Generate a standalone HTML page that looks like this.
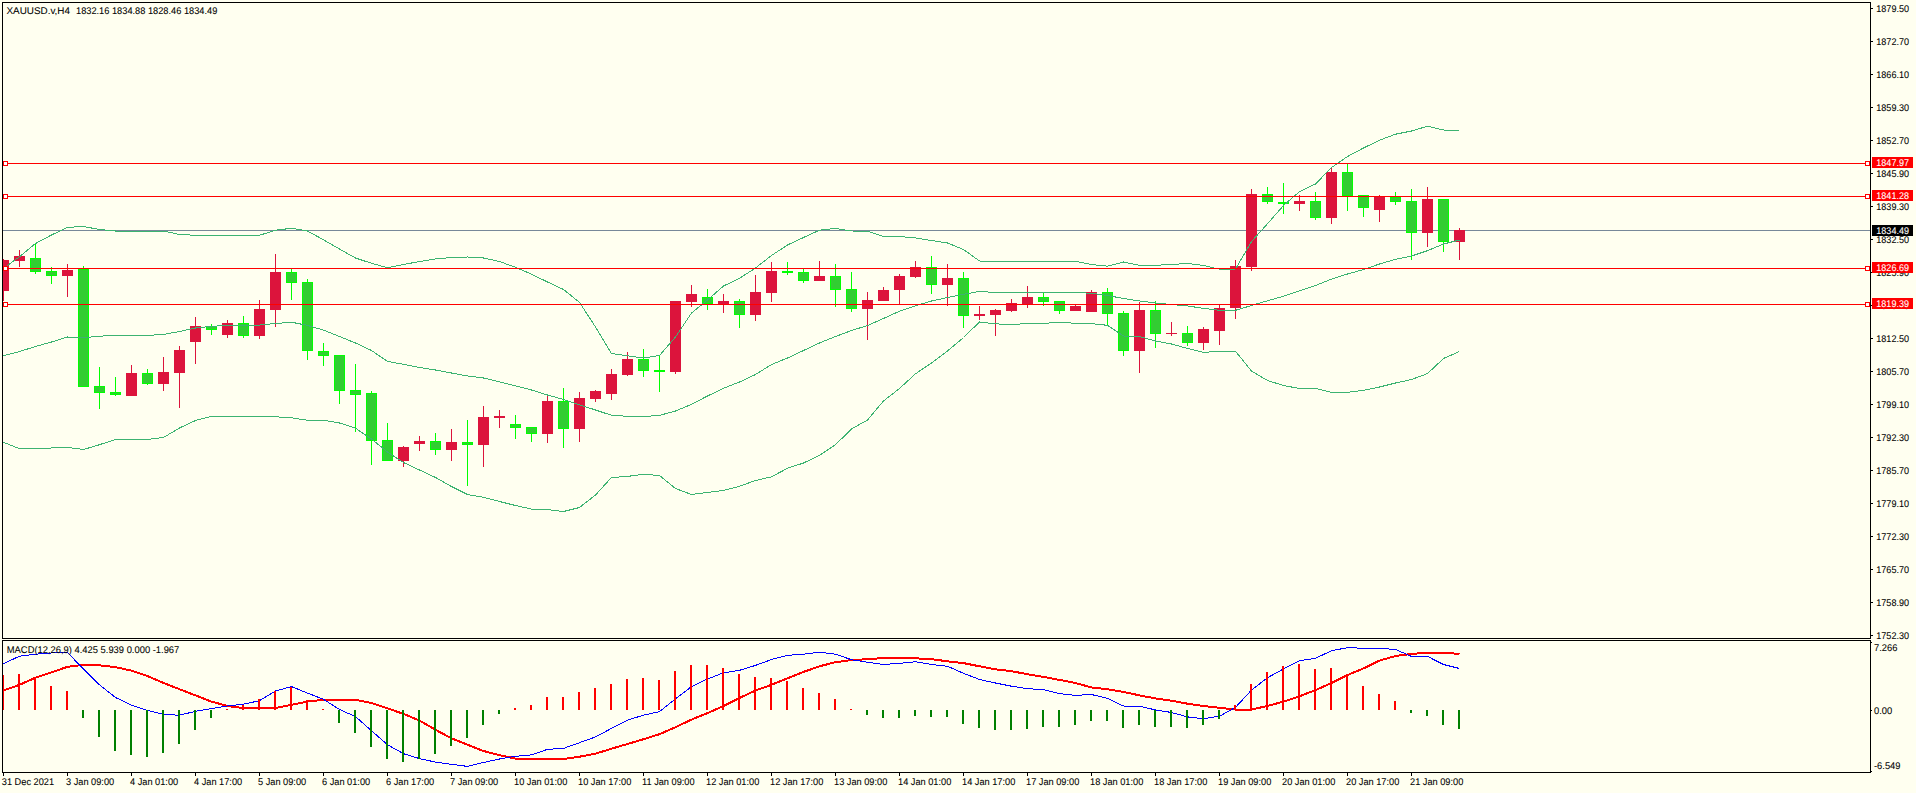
<!DOCTYPE html>
<html><head><meta charset="utf-8"><title>XAUUSD.v,H4</title>
<style>html,body{margin:0;padding:0;background:#FFFFF0;width:1916px;height:793px;overflow:hidden}svg{display:block}</style>
</head><body>
<svg width="1916" height="793" viewBox="0 0 1916 793">
<rect x="0" y="0" width="1916" height="793" fill="#FFFFF0"/>
<defs><clipPath id="cm"><rect x="3" y="3" width="1867" height="635"/></clipPath><clipPath id="cs"><rect x="3" y="641" width="1867" height="131"/></clipPath></defs>
<g clip-path="url(#cm)" shape-rendering="crispEdges">
<rect x="3" y="230" width="1867" height="1" fill="#778899"/>
<rect x="3" y="259" width="1" height="42" fill="#DC143C"/>
<rect x="-2" y="260" width="11" height="31" fill="#DC143C"/>
<rect x="19" y="250" width="1" height="17" fill="#DC143C"/>
<rect x="14" y="256" width="11" height="5" fill="#DC143C"/>
<rect x="35" y="243" width="1" height="31" fill="#00FF00"/>
<rect x="30" y="258" width="11" height="14" fill="#00FF00"/>
<rect x="31" y="259" width="9" height="12" fill="#32CD32"/>
<rect x="51" y="267" width="1" height="17" fill="#00FF00"/>
<rect x="46" y="271" width="11" height="5" fill="#00FF00"/>
<rect x="47" y="272" width="9" height="3" fill="#32CD32"/>
<rect x="67" y="264" width="1" height="33" fill="#DC143C"/>
<rect x="62" y="270" width="11" height="6" fill="#DC143C"/>
<rect x="83" y="266" width="1" height="121" fill="#00FF00"/>
<rect x="78" y="269" width="11" height="118" fill="#00FF00"/>
<rect x="79" y="270" width="9" height="116" fill="#32CD32"/>
<rect x="99" y="367" width="1" height="42" fill="#00FF00"/>
<rect x="94" y="386" width="11" height="7" fill="#00FF00"/>
<rect x="95" y="387" width="9" height="5" fill="#32CD32"/>
<rect x="115" y="377" width="1" height="19" fill="#00FF00"/>
<rect x="110" y="392" width="11" height="3" fill="#00FF00"/>
<rect x="111" y="393" width="9" height="1" fill="#32CD32"/>
<rect x="131" y="365" width="1" height="31" fill="#DC143C"/>
<rect x="126" y="373" width="11" height="23" fill="#DC143C"/>
<rect x="147" y="369" width="1" height="16" fill="#00FF00"/>
<rect x="142" y="373" width="11" height="11" fill="#00FF00"/>
<rect x="143" y="374" width="9" height="9" fill="#32CD32"/>
<rect x="163" y="357" width="1" height="34" fill="#DC143C"/>
<rect x="158" y="372" width="11" height="12" fill="#DC143C"/>
<rect x="179" y="346" width="1" height="62" fill="#DC143C"/>
<rect x="174" y="350" width="11" height="23" fill="#DC143C"/>
<rect x="195" y="317" width="1" height="47" fill="#DC143C"/>
<rect x="190" y="326" width="11" height="16" fill="#DC143C"/>
<rect x="211" y="324" width="1" height="11" fill="#00FF00"/>
<rect x="206" y="326" width="11" height="4" fill="#00FF00"/>
<rect x="207" y="327" width="9" height="2" fill="#32CD32"/>
<rect x="227" y="320" width="1" height="18" fill="#DC143C"/>
<rect x="222" y="323" width="11" height="12" fill="#DC143C"/>
<rect x="243" y="316" width="1" height="22" fill="#00FF00"/>
<rect x="238" y="323" width="11" height="13" fill="#00FF00"/>
<rect x="239" y="324" width="9" height="11" fill="#32CD32"/>
<rect x="259" y="300" width="1" height="39" fill="#DC143C"/>
<rect x="254" y="309" width="11" height="27" fill="#DC143C"/>
<rect x="275" y="254" width="1" height="73" fill="#DC143C"/>
<rect x="270" y="272" width="11" height="38" fill="#DC143C"/>
<rect x="291" y="269" width="1" height="31" fill="#00FF00"/>
<rect x="286" y="272" width="11" height="11" fill="#00FF00"/>
<rect x="287" y="273" width="9" height="9" fill="#32CD32"/>
<rect x="307" y="279" width="1" height="81" fill="#00FF00"/>
<rect x="302" y="282" width="11" height="69" fill="#00FF00"/>
<rect x="303" y="283" width="9" height="67" fill="#32CD32"/>
<rect x="323" y="343" width="1" height="23" fill="#00FF00"/>
<rect x="318" y="351" width="11" height="5" fill="#00FF00"/>
<rect x="319" y="352" width="9" height="3" fill="#32CD32"/>
<rect x="339" y="355" width="1" height="49" fill="#00FF00"/>
<rect x="334" y="355" width="11" height="36" fill="#00FF00"/>
<rect x="335" y="356" width="9" height="34" fill="#32CD32"/>
<rect x="355" y="364" width="1" height="68" fill="#00FF00"/>
<rect x="350" y="390" width="11" height="5" fill="#00FF00"/>
<rect x="351" y="391" width="9" height="3" fill="#32CD32"/>
<rect x="371" y="391" width="1" height="74" fill="#00FF00"/>
<rect x="366" y="393" width="11" height="48" fill="#00FF00"/>
<rect x="367" y="394" width="9" height="46" fill="#32CD32"/>
<rect x="387" y="423" width="1" height="38" fill="#00FF00"/>
<rect x="382" y="440" width="11" height="21" fill="#00FF00"/>
<rect x="383" y="441" width="9" height="19" fill="#32CD32"/>
<rect x="403" y="446" width="1" height="21" fill="#DC143C"/>
<rect x="398" y="447" width="11" height="14" fill="#DC143C"/>
<rect x="419" y="436" width="1" height="15" fill="#DC143C"/>
<rect x="414" y="441" width="11" height="3" fill="#DC143C"/>
<rect x="435" y="433" width="1" height="22" fill="#00FF00"/>
<rect x="430" y="441" width="11" height="9" fill="#00FF00"/>
<rect x="431" y="442" width="9" height="7" fill="#32CD32"/>
<rect x="451" y="429" width="1" height="32" fill="#DC143C"/>
<rect x="446" y="442" width="11" height="8" fill="#DC143C"/>
<rect x="467" y="420" width="1" height="66" fill="#00FF00"/>
<rect x="462" y="442" width="11" height="3" fill="#00FF00"/>
<rect x="463" y="443" width="9" height="1" fill="#32CD32"/>
<rect x="483" y="406" width="1" height="61" fill="#DC143C"/>
<rect x="478" y="417" width="11" height="28" fill="#DC143C"/>
<rect x="499" y="410" width="1" height="18" fill="#DC143C"/>
<rect x="494" y="416" width="11" height="2" fill="#DC143C"/>
<rect x="515" y="415" width="1" height="24" fill="#00FF00"/>
<rect x="510" y="424" width="11" height="4" fill="#00FF00"/>
<rect x="511" y="425" width="9" height="2" fill="#32CD32"/>
<rect x="531" y="427" width="1" height="15" fill="#00FF00"/>
<rect x="526" y="427" width="11" height="7" fill="#00FF00"/>
<rect x="527" y="428" width="9" height="5" fill="#32CD32"/>
<rect x="547" y="396" width="1" height="47" fill="#DC143C"/>
<rect x="542" y="401" width="11" height="33" fill="#DC143C"/>
<rect x="563" y="388" width="1" height="60" fill="#00FF00"/>
<rect x="558" y="401" width="11" height="28" fill="#00FF00"/>
<rect x="559" y="402" width="9" height="26" fill="#32CD32"/>
<rect x="579" y="392" width="1" height="50" fill="#DC143C"/>
<rect x="574" y="398" width="11" height="31" fill="#DC143C"/>
<rect x="595" y="390" width="1" height="12" fill="#DC143C"/>
<rect x="590" y="391" width="11" height="8" fill="#DC143C"/>
<rect x="611" y="369" width="1" height="31" fill="#DC143C"/>
<rect x="606" y="374" width="11" height="20" fill="#DC143C"/>
<rect x="627" y="352" width="1" height="24" fill="#DC143C"/>
<rect x="622" y="359" width="11" height="16" fill="#DC143C"/>
<rect x="643" y="349" width="1" height="28" fill="#00FF00"/>
<rect x="638" y="359" width="11" height="12" fill="#00FF00"/>
<rect x="639" y="360" width="9" height="10" fill="#32CD32"/>
<rect x="659" y="356" width="1" height="36" fill="#00FF00"/>
<rect x="654" y="370" width="11" height="2" fill="#00FF00"/>
<rect x="675" y="301" width="1" height="73" fill="#DC143C"/>
<rect x="670" y="301" width="11" height="71" fill="#DC143C"/>
<rect x="691" y="285" width="1" height="22" fill="#DC143C"/>
<rect x="686" y="294" width="11" height="8" fill="#DC143C"/>
<rect x="707" y="289" width="1" height="21" fill="#00FF00"/>
<rect x="702" y="297" width="11" height="7" fill="#00FF00"/>
<rect x="703" y="298" width="9" height="5" fill="#32CD32"/>
<rect x="723" y="294" width="1" height="19" fill="#DC143C"/>
<rect x="718" y="301" width="11" height="3" fill="#DC143C"/>
<rect x="739" y="299" width="1" height="29" fill="#00FF00"/>
<rect x="734" y="301" width="11" height="14" fill="#00FF00"/>
<rect x="735" y="302" width="9" height="12" fill="#32CD32"/>
<rect x="755" y="275" width="1" height="46" fill="#DC143C"/>
<rect x="750" y="292" width="11" height="23" fill="#DC143C"/>
<rect x="771" y="262" width="1" height="40" fill="#DC143C"/>
<rect x="766" y="271" width="11" height="22" fill="#DC143C"/>
<rect x="787" y="262" width="1" height="13" fill="#00FF00"/>
<rect x="782" y="271" width="11" height="2" fill="#00FF00"/>
<rect x="803" y="269" width="1" height="14" fill="#00FF00"/>
<rect x="798" y="272" width="11" height="9" fill="#00FF00"/>
<rect x="799" y="273" width="9" height="7" fill="#32CD32"/>
<rect x="819" y="261" width="1" height="20" fill="#DC143C"/>
<rect x="814" y="276" width="11" height="5" fill="#DC143C"/>
<rect x="835" y="264" width="1" height="43" fill="#00FF00"/>
<rect x="830" y="276" width="11" height="14" fill="#00FF00"/>
<rect x="831" y="277" width="9" height="12" fill="#32CD32"/>
<rect x="851" y="272" width="1" height="40" fill="#00FF00"/>
<rect x="846" y="289" width="11" height="20" fill="#00FF00"/>
<rect x="847" y="290" width="9" height="18" fill="#32CD32"/>
<rect x="867" y="292" width="1" height="48" fill="#DC143C"/>
<rect x="862" y="300" width="11" height="9" fill="#DC143C"/>
<rect x="883" y="287" width="1" height="14" fill="#DC143C"/>
<rect x="878" y="290" width="11" height="11" fill="#DC143C"/>
<rect x="899" y="274" width="1" height="30" fill="#DC143C"/>
<rect x="894" y="276" width="11" height="14" fill="#DC143C"/>
<rect x="915" y="261" width="1" height="17" fill="#DC143C"/>
<rect x="910" y="267" width="11" height="10" fill="#DC143C"/>
<rect x="931" y="256" width="1" height="38" fill="#00FF00"/>
<rect x="926" y="267" width="11" height="18" fill="#00FF00"/>
<rect x="927" y="268" width="9" height="16" fill="#32CD32"/>
<rect x="947" y="264" width="1" height="42" fill="#DC143C"/>
<rect x="942" y="278" width="11" height="7" fill="#DC143C"/>
<rect x="963" y="272" width="1" height="56" fill="#00FF00"/>
<rect x="958" y="278" width="11" height="38" fill="#00FF00"/>
<rect x="959" y="279" width="9" height="36" fill="#32CD32"/>
<rect x="979" y="306" width="1" height="14" fill="#DC143C"/>
<rect x="974" y="314" width="11" height="2" fill="#DC143C"/>
<rect x="995" y="309" width="1" height="27" fill="#DC143C"/>
<rect x="990" y="310" width="11" height="5" fill="#DC143C"/>
<rect x="1011" y="299" width="1" height="13" fill="#DC143C"/>
<rect x="1006" y="303" width="11" height="8" fill="#DC143C"/>
<rect x="1027" y="286" width="1" height="22" fill="#DC143C"/>
<rect x="1022" y="297" width="11" height="7" fill="#DC143C"/>
<rect x="1043" y="293" width="1" height="13" fill="#00FF00"/>
<rect x="1038" y="297" width="11" height="5" fill="#00FF00"/>
<rect x="1039" y="298" width="9" height="3" fill="#32CD32"/>
<rect x="1059" y="301" width="1" height="13" fill="#00FF00"/>
<rect x="1054" y="301" width="11" height="10" fill="#00FF00"/>
<rect x="1055" y="302" width="9" height="8" fill="#32CD32"/>
<rect x="1075" y="305" width="1" height="6" fill="#DC143C"/>
<rect x="1070" y="306" width="11" height="5" fill="#DC143C"/>
<rect x="1091" y="290" width="1" height="22" fill="#DC143C"/>
<rect x="1086" y="292" width="11" height="20" fill="#DC143C"/>
<rect x="1107" y="288" width="1" height="37" fill="#00FF00"/>
<rect x="1102" y="292" width="11" height="22" fill="#00FF00"/>
<rect x="1103" y="293" width="9" height="20" fill="#32CD32"/>
<rect x="1123" y="311" width="1" height="45" fill="#00FF00"/>
<rect x="1118" y="313" width="11" height="38" fill="#00FF00"/>
<rect x="1119" y="314" width="9" height="36" fill="#32CD32"/>
<rect x="1139" y="302" width="1" height="71" fill="#DC143C"/>
<rect x="1134" y="310" width="11" height="41" fill="#DC143C"/>
<rect x="1155" y="301" width="1" height="47" fill="#00FF00"/>
<rect x="1150" y="310" width="11" height="24" fill="#00FF00"/>
<rect x="1151" y="311" width="9" height="22" fill="#32CD32"/>
<rect x="1171" y="322" width="1" height="14" fill="#DC143C"/>
<rect x="1166" y="333" width="11" height="1" fill="#DC143C"/>
<rect x="1187" y="326" width="1" height="20" fill="#00FF00"/>
<rect x="1182" y="333" width="11" height="10" fill="#00FF00"/>
<rect x="1183" y="334" width="9" height="8" fill="#32CD32"/>
<rect x="1203" y="327" width="1" height="23" fill="#DC143C"/>
<rect x="1198" y="329" width="11" height="14" fill="#DC143C"/>
<rect x="1219" y="305" width="1" height="40" fill="#DC143C"/>
<rect x="1214" y="308" width="11" height="23" fill="#DC143C"/>
<rect x="1235" y="260" width="1" height="59" fill="#DC143C"/>
<rect x="1230" y="266" width="11" height="42" fill="#DC143C"/>
<rect x="1251" y="189" width="1" height="82" fill="#DC143C"/>
<rect x="1246" y="194" width="11" height="73" fill="#DC143C"/>
<rect x="1267" y="187" width="1" height="17" fill="#00FF00"/>
<rect x="1262" y="194" width="11" height="8" fill="#00FF00"/>
<rect x="1263" y="195" width="9" height="6" fill="#32CD32"/>
<rect x="1283" y="183" width="1" height="31" fill="#00FF00"/>
<rect x="1278" y="202" width="11" height="2" fill="#00FF00"/>
<rect x="1299" y="195" width="1" height="16" fill="#DC143C"/>
<rect x="1294" y="201" width="11" height="3" fill="#DC143C"/>
<rect x="1315" y="192" width="1" height="28" fill="#00FF00"/>
<rect x="1310" y="201" width="11" height="17" fill="#00FF00"/>
<rect x="1311" y="202" width="9" height="15" fill="#32CD32"/>
<rect x="1331" y="168" width="1" height="56" fill="#DC143C"/>
<rect x="1326" y="172" width="11" height="46" fill="#DC143C"/>
<rect x="1347" y="164" width="1" height="47" fill="#00FF00"/>
<rect x="1342" y="172" width="11" height="24" fill="#00FF00"/>
<rect x="1343" y="173" width="9" height="22" fill="#32CD32"/>
<rect x="1363" y="195" width="1" height="22" fill="#00FF00"/>
<rect x="1358" y="195" width="11" height="13" fill="#00FF00"/>
<rect x="1359" y="196" width="9" height="11" fill="#32CD32"/>
<rect x="1379" y="195" width="1" height="27" fill="#DC143C"/>
<rect x="1374" y="197" width="11" height="13" fill="#DC143C"/>
<rect x="1395" y="192" width="1" height="13" fill="#00FF00"/>
<rect x="1390" y="197" width="11" height="5" fill="#00FF00"/>
<rect x="1391" y="198" width="9" height="3" fill="#32CD32"/>
<rect x="1411" y="189" width="1" height="71" fill="#00FF00"/>
<rect x="1406" y="201" width="11" height="32" fill="#00FF00"/>
<rect x="1407" y="202" width="9" height="30" fill="#32CD32"/>
<rect x="1427" y="187" width="1" height="60" fill="#DC143C"/>
<rect x="1422" y="199" width="11" height="34" fill="#DC143C"/>
<rect x="1443" y="199" width="1" height="53" fill="#00FF00"/>
<rect x="1438" y="199" width="11" height="43" fill="#00FF00"/>
<rect x="1439" y="200" width="9" height="41" fill="#32CD32"/>
<rect x="1459" y="228" width="1" height="32" fill="#DC143C"/>
<rect x="1454" y="230" width="11" height="12" fill="#DC143C"/>
</g>
<g clip-path="url(#cm)">
<polyline points="3.5,268.4 19.5,256.7 35.5,243.5 51.5,235.0 67.5,227.4 83.5,226.5 99.5,229.5 115.5,231.0 131.5,231.0 147.5,231.0 163.5,231.0 179.5,234.5 195.5,235.3 211.5,235.3 227.5,235.3 243.5,235.3 259.5,235.3 275.5,230.2 291.5,228.3 307.5,231.0 323.5,239.8 339.5,249.0 355.5,258.0 371.5,263.3 387.5,267.7 403.5,264.5 419.5,261.5 435.5,259.0 451.5,257.5 467.5,257.0 483.5,258.0 499.5,261.5 515.5,267.3 531.5,274.2 547.5,282.0 563.5,289.5 579.5,302.4 595.5,327.0 611.5,353.5 627.5,355.8 643.5,358.0 659.5,355.5 675.5,337.0 691.5,313.0 707.5,300.0 723.5,286.0 739.5,278.3 755.5,268.0 771.5,255.5 787.5,245.0 803.5,237.5 819.5,230.2 835.5,228.4 851.5,231.0 867.5,231.2 883.5,236.5 899.5,236.5 915.5,238.0 931.5,240.5 947.5,243.0 963.5,249.5 979.5,261.0 995.5,261.4 1011.5,261.4 1027.5,261.4 1043.5,261.4 1059.5,261.4 1075.5,261.4 1091.5,264.5 1107.5,266.2 1123.5,262.0 1139.5,265.3 1155.5,265.3 1171.5,264.5 1187.5,263.5 1203.5,265.5 1219.5,269.2 1235.5,269.0 1251.5,241.6 1267.5,223.7 1283.5,205.5 1299.5,191.6 1315.5,184.0 1331.5,167.5 1347.5,156.5 1363.5,148.0 1379.5,140.2 1395.5,134.2 1411.5,131.0 1427.5,126.2 1443.5,130.0 1459.5,130.3" fill="none" stroke="#3CB371" stroke-width="1" shape-rendering="crispEdges"/>
<polyline points="3.5,355.7 19.5,351.5 35.5,346.5 51.5,342.0 67.5,337.0 83.5,337.7 99.5,336.2 115.5,335.4 131.5,335.4 147.5,335.4 163.5,334.5 179.5,331.5 195.5,328.0 211.5,326.4 227.5,325.3 243.5,325.1 259.5,325.1 275.5,323.5 291.5,322.2 307.5,325.4 323.5,330.1 339.5,336.5 355.5,343.0 371.5,350.5 387.5,361.4 403.5,364.3 419.5,367.5 435.5,370.0 451.5,373.0 467.5,376.0 483.5,378.0 499.5,381.8 515.5,385.8 531.5,390.0 547.5,395.0 563.5,399.5 579.5,404.8 595.5,410.0 611.5,415.3 627.5,416.3 643.5,416.5 659.5,415.4 675.5,411.0 691.5,404.3 707.5,396.0 723.5,388.3 739.5,382.0 755.5,374.5 771.5,364.5 787.5,358.0 803.5,350.5 819.5,343.0 835.5,336.5 851.5,330.5 867.5,325.5 883.5,318.5 899.5,311.2 915.5,305.8 931.5,301.0 947.5,297.5 963.5,294.3 979.5,291.4 995.5,292.5 1011.5,292.5 1027.5,292.5 1043.5,292.5 1059.5,292.5 1075.5,292.5 1091.5,293.3 1107.5,295.5 1123.5,298.5 1139.5,301.0 1155.5,303.0 1171.5,304.5 1187.5,306.0 1203.5,308.3 1219.5,310.3 1235.5,310.3 1251.5,305.5 1267.5,300.8 1283.5,296.3 1299.5,290.8 1315.5,285.5 1331.5,279.1 1347.5,274.0 1363.5,269.5 1379.5,264.0 1395.5,259.3 1411.5,256.0 1427.5,250.7 1443.5,244.0 1459.5,240.0" fill="none" stroke="#3CB371" stroke-width="1" shape-rendering="crispEdges"/>
<polyline points="3.5,442.3 19.5,448.7 35.5,449.0 51.5,448.0 67.5,447.5 83.5,449.5 99.5,444.7 115.5,439.4 131.5,439.4 147.5,439.4 163.5,437.5 179.5,428.0 195.5,420.5 211.5,416.4 227.5,416.4 243.5,416.3 259.5,416.3 275.5,416.8 291.5,417.8 307.5,420.3 323.5,420.3 339.5,423.0 355.5,428.2 371.5,439.0 387.5,452.0 403.5,462.5 419.5,470.0 435.5,477.5 451.5,486.5 467.5,494.5 483.5,497.3 499.5,501.5 515.5,505.5 531.5,509.1 547.5,509.6 563.5,511.5 579.5,507.5 595.5,495.0 611.5,477.5 627.5,476.4 643.5,474.3 659.5,475.5 675.5,488.5 691.5,494.5 707.5,492.5 723.5,490.5 739.5,486.3 755.5,480.5 771.5,476.8 787.5,468.3 803.5,463.0 819.5,455.3 835.5,444.7 851.5,429.0 867.5,420.0 883.5,401.0 899.5,388.5 915.5,373.8 931.5,363.0 947.5,351.0 963.5,337.5 979.5,322.0 995.5,323.8 1011.5,324.7 1027.5,323.4 1043.5,323.4 1059.5,322.2 1075.5,323.3 1091.5,323.7 1107.5,325.3 1123.5,336.0 1139.5,336.5 1155.5,341.0 1171.5,344.0 1187.5,348.5 1203.5,352.3 1219.5,351.4 1235.5,351.3 1251.5,371.0 1267.5,380.5 1283.5,385.5 1299.5,388.5 1315.5,388.5 1331.5,392.3 1347.5,392.3 1363.5,390.4 1379.5,387.0 1395.5,383.0 1411.5,379.5 1427.5,373.6 1443.5,358.5 1459.5,351.5" fill="none" stroke="#3CB371" stroke-width="1" shape-rendering="crispEdges"/>
</g>
<g shape-rendering="crispEdges">
<rect x="3" y="163" width="1867" height="1" fill="#FF0000"/>
<rect x="3" y="161" width="5" height="5" fill="#FF0000"/>
<rect x="4" y="162" width="3" height="3" fill="#FFFFFF"/>
<rect x="1865" y="161" width="5" height="5" fill="#FF0000"/>
<rect x="1866" y="162" width="3" height="3" fill="#FFFFFF"/>
<rect x="3" y="196" width="1867" height="1" fill="#FF0000"/>
<rect x="3" y="194" width="5" height="5" fill="#FF0000"/>
<rect x="4" y="195" width="3" height="3" fill="#FFFFFF"/>
<rect x="1865" y="194" width="5" height="5" fill="#FF0000"/>
<rect x="1866" y="195" width="3" height="3" fill="#FFFFFF"/>
<rect x="3" y="268" width="1867" height="1" fill="#FF0000"/>
<rect x="3" y="266" width="5" height="5" fill="#FF0000"/>
<rect x="4" y="267" width="3" height="3" fill="#FFFFFF"/>
<rect x="1865" y="266" width="5" height="5" fill="#FF0000"/>
<rect x="1866" y="267" width="3" height="3" fill="#FFFFFF"/>
<rect x="3" y="304" width="1867" height="1" fill="#FF0000"/>
<rect x="3" y="302" width="5" height="5" fill="#FF0000"/>
<rect x="4" y="303" width="3" height="3" fill="#FFFFFF"/>
<rect x="1865" y="302" width="5" height="5" fill="#FF0000"/>
<rect x="1866" y="303" width="3" height="3" fill="#FFFFFF"/>
</g>
<g clip-path="url(#cs)">
<polyline points="3.5,690.5 19.5,684.8 35.5,677.7 51.5,672.4 67.5,666.8 83.5,664.8 99.5,665.3 115.5,667.1 131.5,670.7 147.5,676.0 163.5,683.0 179.5,689.2 195.5,695.4 211.5,701.6 227.5,706.0 243.5,708.1 259.5,708.1 275.5,708.1 291.5,704.8 307.5,701.6 323.5,699.8 339.5,699.8 355.5,699.8 371.5,703.0 387.5,708.3 403.5,713.9 419.5,720.6 435.5,729.8 451.5,738.3 467.5,744.8 483.5,751.0 499.5,755.1 515.5,758.6 531.5,759.0 547.5,759.0 563.5,759.0 579.5,756.7 595.5,753.7 611.5,748.7 627.5,744.0 643.5,739.2 659.5,734.2 675.5,727.2 691.5,719.6 707.5,713.1 723.5,706.0 739.5,698.0 755.5,690.5 771.5,684.8 787.5,678.3 803.5,671.9 819.5,666.3 835.5,662.2 851.5,660.1 867.5,659.2 883.5,658.0 899.5,658.0 915.5,658.3 931.5,659.2 947.5,661.3 963.5,663.1 979.5,666.3 995.5,669.3 1011.5,671.2 1027.5,674.2 1043.5,676.9 1059.5,679.9 1075.5,683.0 1091.5,687.4 1107.5,689.2 1123.5,691.9 1139.5,695.4 1155.5,698.4 1171.5,700.7 1187.5,703.7 1203.5,706.0 1219.5,707.8 1235.5,709.5 1251.5,709.5 1267.5,706.0 1283.5,701.6 1299.5,696.3 1315.5,690.1 1331.5,683.0 1347.5,675.1 1363.5,668.4 1379.5,660.6 1395.5,656.0 1411.5,653.9 1427.5,652.8 1443.5,652.8 1459.5,653.9" fill="none" stroke="#FF0000" stroke-width="2" shape-rendering="crispEdges"/>
<polyline points="3.5,663.6 19.5,656.2 35.5,654.2 51.5,653.0 67.5,652.7 83.5,668.9 99.5,684.8 115.5,697.5 131.5,705.1 147.5,710.4 163.5,714.5 179.5,715.2 195.5,711.3 211.5,708.6 227.5,706.0 243.5,704.2 259.5,700.7 275.5,691.0 291.5,686.6 307.5,693.1 323.5,699.3 339.5,709.5 355.5,716.6 371.5,730.7 387.5,744.8 403.5,753.7 419.5,758.6 435.5,762.1 451.5,764.3 467.5,766.4 483.5,762.5 499.5,759.0 515.5,756.3 531.5,754.9 547.5,749.3 563.5,748.4 579.5,742.7 595.5,736.9 611.5,728.4 627.5,720.1 643.5,715.2 659.5,711.6 675.5,698.9 691.5,686.6 707.5,679.0 723.5,672.8 739.5,670.3 755.5,665.4 771.5,659.5 787.5,655.3 803.5,654.2 819.5,652.1 835.5,654.2 851.5,659.7 867.5,662.2 883.5,664.5 899.5,663.3 915.5,661.8 931.5,664.5 947.5,666.3 963.5,673.3 979.5,679.5 995.5,683.0 1011.5,686.2 1027.5,688.7 1043.5,689.6 1059.5,693.6 1075.5,695.4 1091.5,694.5 1107.5,698.4 1123.5,706.0 1139.5,706.3 1155.5,709.9 1171.5,712.5 1187.5,716.9 1203.5,718.7 1219.5,716.2 1235.5,707.4 1251.5,690.1 1267.5,677.7 1283.5,668.9 1299.5,660.6 1315.5,658.3 1331.5,650.7 1347.5,647.7 1363.5,648.2 1379.5,648.2 1395.5,649.5 1411.5,656.4 1427.5,656.4 1443.5,664.5 1459.5,668.5" fill="none" stroke="#0000FF" stroke-width="1" shape-rendering="crispEdges"/>
</g>
<g clip-path="url(#cs)" shape-rendering="crispEdges">
<rect x="2" y="675" width="2" height="35" fill="#FF0000"/>
<rect x="18" y="674" width="2" height="36" fill="#FF0000"/>
<rect x="34" y="678" width="2" height="32" fill="#FF0000"/>
<rect x="50" y="686" width="2" height="24" fill="#FF0000"/>
<rect x="66" y="691" width="2" height="19" fill="#FF0000"/>
<rect x="82" y="710" width="2" height="8" fill="#008000"/>
<rect x="98" y="710" width="2" height="27" fill="#008000"/>
<rect x="114" y="710" width="2" height="41" fill="#008000"/>
<rect x="130" y="710" width="2" height="45" fill="#008000"/>
<rect x="146" y="710" width="2" height="47" fill="#008000"/>
<rect x="162" y="710" width="2" height="43" fill="#008000"/>
<rect x="178" y="710" width="2" height="34" fill="#008000"/>
<rect x="194" y="710" width="2" height="20" fill="#008000"/>
<rect x="210" y="710" width="2" height="8" fill="#008000"/>
<rect x="226" y="709" width="2" height="1" fill="#FF0000"/>
<rect x="242" y="705" width="2" height="5" fill="#FF0000"/>
<rect x="258" y="699" width="2" height="11" fill="#FF0000"/>
<rect x="274" y="691" width="2" height="19" fill="#FF0000"/>
<rect x="290" y="687" width="2" height="23" fill="#FF0000"/>
<rect x="306" y="700" width="2" height="10" fill="#FF0000"/>
<rect x="322" y="709" width="2" height="1" fill="#FF0000"/>
<rect x="338" y="710" width="2" height="13" fill="#008000"/>
<rect x="354" y="710" width="2" height="23" fill="#008000"/>
<rect x="370" y="710" width="2" height="37" fill="#008000"/>
<rect x="386" y="710" width="2" height="49" fill="#008000"/>
<rect x="402" y="710" width="2" height="52" fill="#008000"/>
<rect x="418" y="710" width="2" height="49" fill="#008000"/>
<rect x="434" y="710" width="2" height="44" fill="#008000"/>
<rect x="450" y="710" width="2" height="36" fill="#008000"/>
<rect x="466" y="710" width="2" height="28" fill="#008000"/>
<rect x="482" y="710" width="2" height="15" fill="#008000"/>
<rect x="498" y="710" width="2" height="4" fill="#008000"/>
<rect x="514" y="708" width="2" height="2" fill="#FF0000"/>
<rect x="530" y="705" width="2" height="5" fill="#FF0000"/>
<rect x="546" y="697" width="2" height="13" fill="#FF0000"/>
<rect x="562" y="697" width="2" height="13" fill="#FF0000"/>
<rect x="578" y="692" width="2" height="18" fill="#FF0000"/>
<rect x="594" y="688" width="2" height="22" fill="#FF0000"/>
<rect x="610" y="684" width="2" height="26" fill="#FF0000"/>
<rect x="626" y="679" width="2" height="31" fill="#FF0000"/>
<rect x="642" y="678" width="2" height="32" fill="#FF0000"/>
<rect x="658" y="680" width="2" height="30" fill="#FF0000"/>
<rect x="674" y="671" width="2" height="39" fill="#FF0000"/>
<rect x="690" y="665" width="2" height="45" fill="#FF0000"/>
<rect x="706" y="665" width="2" height="45" fill="#FF0000"/>
<rect x="722" y="668" width="2" height="42" fill="#FF0000"/>
<rect x="738" y="674" width="2" height="36" fill="#FF0000"/>
<rect x="754" y="677" width="2" height="33" fill="#FF0000"/>
<rect x="770" y="678" width="2" height="32" fill="#FF0000"/>
<rect x="786" y="681" width="2" height="29" fill="#FF0000"/>
<rect x="802" y="688" width="2" height="22" fill="#FF0000"/>
<rect x="818" y="693" width="2" height="17" fill="#FF0000"/>
<rect x="834" y="699" width="2" height="11" fill="#FF0000"/>
<rect x="850" y="709" width="2" height="1" fill="#FF0000"/>
<rect x="866" y="710" width="2" height="5" fill="#008000"/>
<rect x="882" y="710" width="2" height="8" fill="#008000"/>
<rect x="898" y="710" width="2" height="8" fill="#008000"/>
<rect x="914" y="710" width="2" height="6" fill="#008000"/>
<rect x="930" y="710" width="2" height="7" fill="#008000"/>
<rect x="946" y="710" width="2" height="7" fill="#008000"/>
<rect x="962" y="710" width="2" height="14" fill="#008000"/>
<rect x="978" y="710" width="2" height="18" fill="#008000"/>
<rect x="994" y="710" width="2" height="20" fill="#008000"/>
<rect x="1010" y="710" width="2" height="20" fill="#008000"/>
<rect x="1026" y="710" width="2" height="19" fill="#008000"/>
<rect x="1042" y="710" width="2" height="17" fill="#008000"/>
<rect x="1058" y="710" width="2" height="17" fill="#008000"/>
<rect x="1074" y="710" width="2" height="15" fill="#008000"/>
<rect x="1090" y="710" width="2" height="11" fill="#008000"/>
<rect x="1106" y="710" width="2" height="11" fill="#008000"/>
<rect x="1122" y="710" width="2" height="18" fill="#008000"/>
<rect x="1138" y="710" width="2" height="15" fill="#008000"/>
<rect x="1154" y="710" width="2" height="17" fill="#008000"/>
<rect x="1170" y="710" width="2" height="17" fill="#008000"/>
<rect x="1186" y="710" width="2" height="18" fill="#008000"/>
<rect x="1202" y="710" width="2" height="15" fill="#008000"/>
<rect x="1218" y="710" width="2" height="9" fill="#008000"/>
<rect x="1234" y="705" width="2" height="5" fill="#FF0000"/>
<rect x="1250" y="684" width="2" height="26" fill="#FF0000"/>
<rect x="1266" y="672" width="2" height="38" fill="#FF0000"/>
<rect x="1282" y="666" width="2" height="44" fill="#FF0000"/>
<rect x="1298" y="664" width="2" height="46" fill="#FF0000"/>
<rect x="1314" y="669" width="2" height="41" fill="#FF0000"/>
<rect x="1330" y="668" width="2" height="42" fill="#FF0000"/>
<rect x="1346" y="675" width="2" height="35" fill="#FF0000"/>
<rect x="1362" y="686" width="2" height="24" fill="#FF0000"/>
<rect x="1378" y="694" width="2" height="16" fill="#FF0000"/>
<rect x="1394" y="701" width="2" height="9" fill="#FF0000"/>
<rect x="1410" y="710" width="2" height="3" fill="#008000"/>
<rect x="1426" y="710" width="2" height="6" fill="#008000"/>
<rect x="1442" y="710" width="2" height="15" fill="#008000"/>
<rect x="1458" y="710" width="2" height="19" fill="#008000"/>
</g>
<g shape-rendering="crispEdges" fill="#000">
<rect x="2" y="2" width="1869" height="1"/>
<rect x="2" y="638" width="1869" height="1"/>
<rect x="2" y="2" width="1" height="637"/>
<rect x="1870" y="2" width="1" height="637"/>
<rect x="2" y="640" width="1869" height="1"/>
<rect x="2" y="772" width="1869" height="1"/>
<rect x="2" y="640" width="1" height="133"/>
<rect x="1870" y="640" width="1" height="133"/>
<rect x="1871" y="8" width="2" height="1"/>
<rect x="1871" y="41" width="2" height="1"/>
<rect x="1871" y="74" width="2" height="1"/>
<rect x="1871" y="107" width="2" height="1"/>
<rect x="1871" y="140" width="2" height="1"/>
<rect x="1871" y="173" width="2" height="1"/>
<rect x="1871" y="206" width="2" height="1"/>
<rect x="1871" y="239" width="2" height="1"/>
<rect x="1871" y="272" width="2" height="1"/>
<rect x="1871" y="305" width="2" height="1"/>
<rect x="1871" y="338" width="2" height="1"/>
<rect x="1871" y="371" width="2" height="1"/>
<rect x="1871" y="404" width="2" height="1"/>
<rect x="1871" y="437" width="2" height="1"/>
<rect x="1871" y="470" width="2" height="1"/>
<rect x="1871" y="503" width="2" height="1"/>
<rect x="1871" y="536" width="2" height="1"/>
<rect x="1871" y="569" width="2" height="1"/>
<rect x="1871" y="602" width="2" height="1"/>
<rect x="1871" y="635" width="2" height="1"/>
<rect x="1871" y="642" width="1" height="1"/>
<rect x="1871" y="710" width="1" height="1"/>
<rect x="1871" y="771" width="1" height="1"/>
<rect x="3" y="773" width="1" height="3"/>
<rect x="67" y="773" width="1" height="3"/>
<rect x="131" y="773" width="1" height="3"/>
<rect x="195" y="773" width="1" height="3"/>
<rect x="259" y="773" width="1" height="3"/>
<rect x="323" y="773" width="1" height="3"/>
<rect x="387" y="773" width="1" height="3"/>
<rect x="451" y="773" width="1" height="3"/>
<rect x="515" y="773" width="1" height="3"/>
<rect x="579" y="773" width="1" height="3"/>
<rect x="643" y="773" width="1" height="3"/>
<rect x="707" y="773" width="1" height="3"/>
<rect x="771" y="773" width="1" height="3"/>
<rect x="835" y="773" width="1" height="3"/>
<rect x="899" y="773" width="1" height="3"/>
<rect x="963" y="773" width="1" height="3"/>
<rect x="1027" y="773" width="1" height="3"/>
<rect x="1091" y="773" width="1" height="3"/>
<rect x="1155" y="773" width="1" height="3"/>
<rect x="1219" y="773" width="1" height="3"/>
<rect x="1283" y="773" width="1" height="3"/>
<rect x="1347" y="773" width="1" height="3"/>
<rect x="1411" y="773" width="1" height="3"/>
</g>
<g font-family="'Liberation Sans', sans-serif" style="white-space:pre;text-rendering:geometricPrecision">
<text x="1876.3" y="12" fill="#000" stroke="#000" stroke-width="0.07" font-size="9.7" textLength="32.74" lengthAdjust="spacingAndGlyphs">1879.50</text>
<text x="1876.3" y="45" fill="#000" stroke="#000" stroke-width="0.07" font-size="9.7" textLength="32.74" lengthAdjust="spacingAndGlyphs">1872.70</text>
<text x="1876.3" y="78" fill="#000" stroke="#000" stroke-width="0.07" font-size="9.7" textLength="32.74" lengthAdjust="spacingAndGlyphs">1866.10</text>
<text x="1876.3" y="111" fill="#000" stroke="#000" stroke-width="0.07" font-size="9.7" textLength="32.74" lengthAdjust="spacingAndGlyphs">1859.30</text>
<text x="1876.3" y="144" fill="#000" stroke="#000" stroke-width="0.07" font-size="9.7" textLength="32.74" lengthAdjust="spacingAndGlyphs">1852.70</text>
<text x="1876.3" y="177" fill="#000" stroke="#000" stroke-width="0.07" font-size="9.7" textLength="32.74" lengthAdjust="spacingAndGlyphs">1845.90</text>
<text x="1876.3" y="210" fill="#000" stroke="#000" stroke-width="0.07" font-size="9.7" textLength="32.74" lengthAdjust="spacingAndGlyphs">1839.30</text>
<text x="1876.3" y="243" fill="#000" stroke="#000" stroke-width="0.07" font-size="9.7" textLength="32.74" lengthAdjust="spacingAndGlyphs">1832.50</text>
<text x="1876.3" y="276" fill="#000" stroke="#000" stroke-width="0.07" font-size="9.7" textLength="32.74" lengthAdjust="spacingAndGlyphs">1825.90</text>
<text x="1876.3" y="309" fill="#000" stroke="#000" stroke-width="0.07" font-size="9.7" textLength="32.74" lengthAdjust="spacingAndGlyphs">1819.10</text>
<text x="1876.3" y="342" fill="#000" stroke="#000" stroke-width="0.07" font-size="9.7" textLength="32.74" lengthAdjust="spacingAndGlyphs">1812.50</text>
<text x="1876.3" y="375" fill="#000" stroke="#000" stroke-width="0.07" font-size="9.7" textLength="32.74" lengthAdjust="spacingAndGlyphs">1805.70</text>
<text x="1876.3" y="408" fill="#000" stroke="#000" stroke-width="0.07" font-size="9.7" textLength="32.74" lengthAdjust="spacingAndGlyphs">1799.10</text>
<text x="1876.3" y="441" fill="#000" stroke="#000" stroke-width="0.07" font-size="9.7" textLength="32.74" lengthAdjust="spacingAndGlyphs">1792.30</text>
<text x="1876.3" y="474" fill="#000" stroke="#000" stroke-width="0.07" font-size="9.7" textLength="32.74" lengthAdjust="spacingAndGlyphs">1785.70</text>
<text x="1876.3" y="507" fill="#000" stroke="#000" stroke-width="0.07" font-size="9.7" textLength="32.74" lengthAdjust="spacingAndGlyphs">1779.10</text>
<text x="1876.3" y="540" fill="#000" stroke="#000" stroke-width="0.07" font-size="9.7" textLength="32.74" lengthAdjust="spacingAndGlyphs">1772.30</text>
<text x="1876.3" y="573" fill="#000" stroke="#000" stroke-width="0.07" font-size="9.7" textLength="32.74" lengthAdjust="spacingAndGlyphs">1765.70</text>
<text x="1876.3" y="606" fill="#000" stroke="#000" stroke-width="0.07" font-size="9.7" textLength="32.74" lengthAdjust="spacingAndGlyphs">1758.90</text>
<text x="1876.3" y="639" fill="#000" stroke="#000" stroke-width="0.07" font-size="9.7" textLength="32.74" lengthAdjust="spacingAndGlyphs">1752.30</text>
<text x="1874" y="651" fill="#000" stroke="#000" stroke-width="0.07" font-size="9.7" textLength="23.39" lengthAdjust="spacingAndGlyphs">7.266</text>
<text x="1874" y="714" fill="#000" stroke="#000" stroke-width="0.07" font-size="9.7" textLength="18.20" lengthAdjust="spacingAndGlyphs">0.00</text>
<text x="1874" y="769" fill="#000" stroke="#000" stroke-width="0.07" font-size="9.7" textLength="26.51" lengthAdjust="spacingAndGlyphs">-6.549</text>
<rect x="1872" y="157" width="41" height="11" fill="#FF0000" shape-rendering="crispEdges"/>
<text x="1876.3" y="166" fill="#FFFFFF" stroke="#FFFFFF" stroke-width="0.07" font-size="9.7" textLength="32.74" lengthAdjust="spacingAndGlyphs">1847.97</text>
<rect x="1872" y="190" width="41" height="11" fill="#FF0000" shape-rendering="crispEdges"/>
<text x="1876.3" y="199" fill="#FFFFFF" stroke="#FFFFFF" stroke-width="0.07" font-size="9.7" textLength="32.74" lengthAdjust="spacingAndGlyphs">1841.28</text>
<rect x="1872" y="225" width="41" height="11" fill="#000000" shape-rendering="crispEdges"/>
<text x="1876.3" y="234" fill="#FFFFFF" stroke="#FFFFFF" stroke-width="0.07" font-size="9.7" textLength="32.74" lengthAdjust="spacingAndGlyphs">1834.49</text>
<rect x="1872" y="262" width="41" height="11" fill="#FF0000" shape-rendering="crispEdges"/>
<text x="1876.3" y="271" fill="#FFFFFF" stroke="#FFFFFF" stroke-width="0.07" font-size="9.7" textLength="32.74" lengthAdjust="spacingAndGlyphs">1826.69</text>
<rect x="1872" y="298" width="41" height="11" fill="#FF0000" shape-rendering="crispEdges"/>
<text x="1876.3" y="307" fill="#FFFFFF" stroke="#FFFFFF" stroke-width="0.07" font-size="9.7" textLength="32.74" lengthAdjust="spacingAndGlyphs">1819.39</text>
<text x="1.8" y="785" fill="#000" stroke="#000" stroke-width="0.07" font-size="9.7" textLength="52.28" lengthAdjust="spacingAndGlyphs">31 Dec 2021</text>
<text x="66.0" y="785" fill="#000" stroke="#000" stroke-width="0.07" font-size="9.7" textLength="48.18" lengthAdjust="spacingAndGlyphs">3 Jan 09:00</text>
<text x="130.0" y="785" fill="#000" stroke="#000" stroke-width="0.07" font-size="9.7" textLength="48.18" lengthAdjust="spacingAndGlyphs">4 Jan 01:00</text>
<text x="194.0" y="785" fill="#000" stroke="#000" stroke-width="0.07" font-size="9.7" textLength="48.18" lengthAdjust="spacingAndGlyphs">4 Jan 17:00</text>
<text x="258.0" y="785" fill="#000" stroke="#000" stroke-width="0.07" font-size="9.7" textLength="48.18" lengthAdjust="spacingAndGlyphs">5 Jan 09:00</text>
<text x="322.0" y="785" fill="#000" stroke="#000" stroke-width="0.07" font-size="9.7" textLength="48.18" lengthAdjust="spacingAndGlyphs">6 Jan 01:00</text>
<text x="386.0" y="785" fill="#000" stroke="#000" stroke-width="0.07" font-size="9.7" textLength="48.18" lengthAdjust="spacingAndGlyphs">6 Jan 17:00</text>
<text x="450.0" y="785" fill="#000" stroke="#000" stroke-width="0.07" font-size="9.7" textLength="48.18" lengthAdjust="spacingAndGlyphs">7 Jan 09:00</text>
<text x="514.0" y="785" fill="#000" stroke="#000" stroke-width="0.07" font-size="9.7" textLength="53.31" lengthAdjust="spacingAndGlyphs">10 Jan 01:00</text>
<text x="578.0" y="785" fill="#000" stroke="#000" stroke-width="0.07" font-size="9.7" textLength="53.31" lengthAdjust="spacingAndGlyphs">10 Jan 17:00</text>
<text x="642.0" y="785" fill="#000" stroke="#000" stroke-width="0.07" font-size="9.7" textLength="52.63" lengthAdjust="spacingAndGlyphs">11 Jan 09:00</text>
<text x="706.0" y="785" fill="#000" stroke="#000" stroke-width="0.07" font-size="9.7" textLength="53.31" lengthAdjust="spacingAndGlyphs">12 Jan 01:00</text>
<text x="770.0" y="785" fill="#000" stroke="#000" stroke-width="0.07" font-size="9.7" textLength="53.31" lengthAdjust="spacingAndGlyphs">12 Jan 17:00</text>
<text x="834.0" y="785" fill="#000" stroke="#000" stroke-width="0.07" font-size="9.7" textLength="53.31" lengthAdjust="spacingAndGlyphs">13 Jan 09:00</text>
<text x="898.0" y="785" fill="#000" stroke="#000" stroke-width="0.07" font-size="9.7" textLength="53.31" lengthAdjust="spacingAndGlyphs">14 Jan 01:00</text>
<text x="962.0" y="785" fill="#000" stroke="#000" stroke-width="0.07" font-size="9.7" textLength="53.31" lengthAdjust="spacingAndGlyphs">14 Jan 17:00</text>
<text x="1026.0" y="785" fill="#000" stroke="#000" stroke-width="0.07" font-size="9.7" textLength="53.31" lengthAdjust="spacingAndGlyphs">17 Jan 09:00</text>
<text x="1090.0" y="785" fill="#000" stroke="#000" stroke-width="0.07" font-size="9.7" textLength="53.31" lengthAdjust="spacingAndGlyphs">18 Jan 01:00</text>
<text x="1154.0" y="785" fill="#000" stroke="#000" stroke-width="0.07" font-size="9.7" textLength="53.31" lengthAdjust="spacingAndGlyphs">18 Jan 17:00</text>
<text x="1218.0" y="785" fill="#000" stroke="#000" stroke-width="0.07" font-size="9.7" textLength="53.31" lengthAdjust="spacingAndGlyphs">19 Jan 09:00</text>
<text x="1282.0" y="785" fill="#000" stroke="#000" stroke-width="0.07" font-size="9.7" textLength="53.31" lengthAdjust="spacingAndGlyphs">20 Jan 01:00</text>
<text x="1346.0" y="785" fill="#000" stroke="#000" stroke-width="0.07" font-size="9.7" textLength="53.31" lengthAdjust="spacingAndGlyphs">20 Jan 17:00</text>
<text x="1410.0" y="785" fill="#000" stroke="#000" stroke-width="0.07" font-size="9.7" textLength="53.31" lengthAdjust="spacingAndGlyphs">21 Jan 09:00</text>
<text x="6.5" y="14" fill="#000" stroke="#000" stroke-width="0.07" font-size="9.7" textLength="63.50" lengthAdjust="spacingAndGlyphs">XAUUSD.v,H4</text>
<text x="76.0" y="14" fill="#000" stroke="#000" stroke-width="0.07" font-size="9.7" textLength="141.30" lengthAdjust="spacingAndGlyphs">1832.16 1834.88 1828.46 1834.49</text>
<text x="6.8" y="653" fill="#000" stroke="#000" stroke-width="0.07" font-size="9.7" textLength="172.50" lengthAdjust="spacingAndGlyphs">MACD(12,26,9) 4.425 5.939 0.000 -1.967</text>
</g>
</svg>
</body></html>
